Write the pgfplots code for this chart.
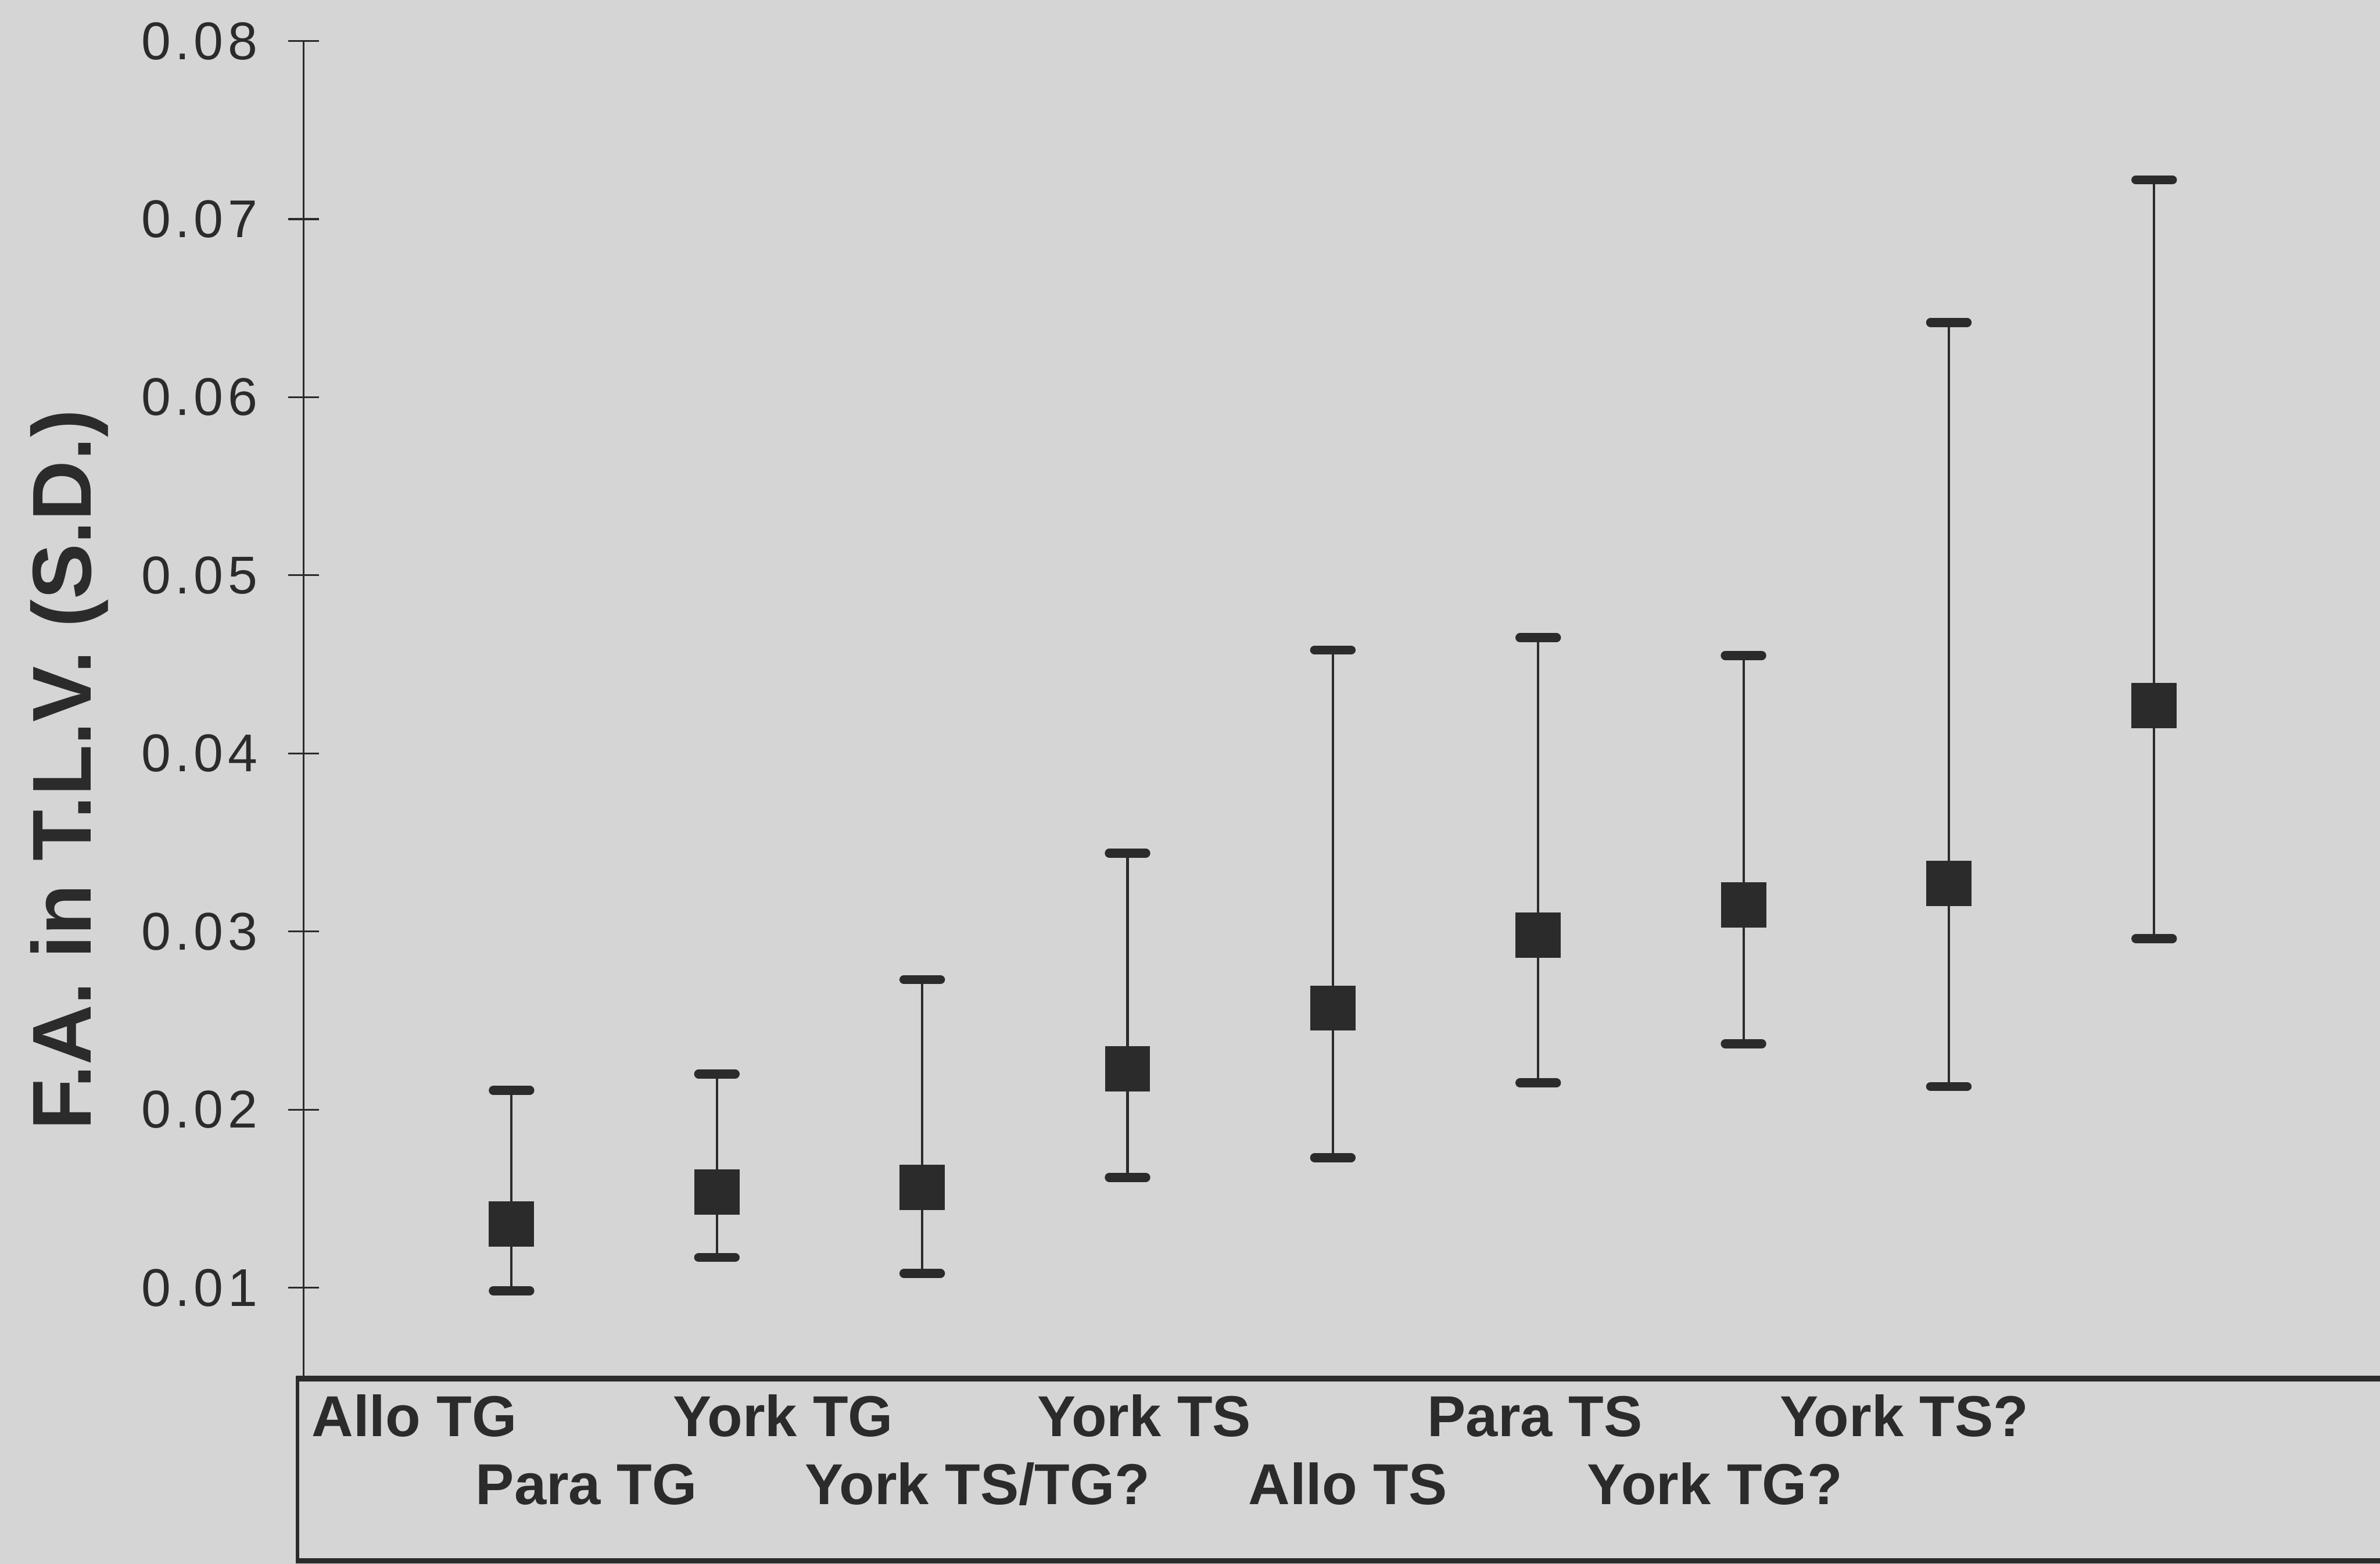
\documentclass[border=0pt]{standalone}
\usepackage{fontspec}
\setmainfont{Liberation Sans}
\newfontfamily\tickfont[LetterSpace=8]{Liberation Sans}
\usepackage{pgfplots}
\pgfplotsset{compat=1.18}
\usepackage{pgfplotstable}
\definecolor{bg}{HTML}{D5D5D5}
\definecolor{ink}{HTML}{2B2B2B}
\pgfplotstableread{
x y ep em
1 0.01358 0.00750 0.00375
2 0.01537 0.00663 0.00367
3 0.01563 0.01167 0.00483
4 0.02230 0.01210 0.00610
5 0.02570 0.02010 0.00840
6 0.02980 0.01670 0.00830
7 0.03150 0.01400 0.00780
8 0.03270 0.03150 0.01140
9 0.04270 0.02950 0.01310
}\datatable
\begin{document}
\begin{tikzpicture}
\fill[bg] (-100pt,-61pt) rectangle (684pt,454pt);
\useasboundingbox (-100pt,-61pt) rectangle (684pt,454pt);
\begin{axis}[
  at={(0pt,0pt)}, anchor=south west,
  scale only axis, width=684pt, height=440.5pt,
  xmin=-0.013, xmax=10.1, ymin=0.0049, ymax=0.08,
  clip=false,
  axis y line*=left, axis x line*=bottom,
  x axis line style={draw=none},
  y axis line style={draw=ink, line width=0.7pt},
  ytick={0.01,0.02,0.03,0.04,0.05,0.06,0.07,0.08},
  yticklabels={0.01,0.02,0.03,0.04,0.05,0.06,0.07,0.08},
  scaled y ticks=false, scaled x ticks=false,
  /pgf/number format/assume math mode=true,
  ytick style={draw=ink, line width=0.6pt},
  tick align=center, major tick length=10pt,
  yticklabel style={font=\tickfont\fontsize{17.5}{20}\selectfont, text=ink, anchor=east, inner sep=0pt, xshift=-10pt},
  xtick={0.024,1.784,3.558,5.458,7.174},
  xticklabels={Allo TG, York TG, York TS, Para TS, York TS?},
  xtick style={draw=none},
  xticklabel style={font=\bfseries\fontsize{19}{22}\selectfont, text=ink, anchor=base west, inner sep=0pt, yshift=-14pt},
  extra x ticks={0.823,2.427,4.586,6.235},
  extra x tick labels={Para TG, York TS/TG?, Allo TS, York TG?},
  extra x tick style={xtick style={draw=none}, xticklabel style={yshift=-22.5pt}},
  ylabel={F.A. in T.L.V. (S.D.)},
  ylabel style={font=\bfseries\fontsize{27.5}{30}\selectfont, text=ink, at={(axis description cs:-0.1023,0.455)}, anchor=base, inner sep=0pt},
]
\addplot[only marks, mark=square*, mark size=7.25pt, mark options={fill=ink, draw=ink},
  error bars/.cd, y dir=both, y explicit,
  error bar style={draw=ink, line width=0.8pt},
  error mark=|, error mark options={draw=ink, line width=3pt, line cap=round, mark size=6pt}]
  table[x=x, y=y, y error plus=ep, y error minus=em] {\datatable};
\end{axis}
\draw[ink, line width=1.8pt] (690pt,0pt) -- (-2pt,0pt);
\draw[ink, line width=1pt] (-2pt,0.9pt) -- (-2pt,-60pt);
\draw[ink, line width=1.8pt] (-2.5pt,-60pt) -- (690pt,-60pt);
\end{tikzpicture}
\end{document}
